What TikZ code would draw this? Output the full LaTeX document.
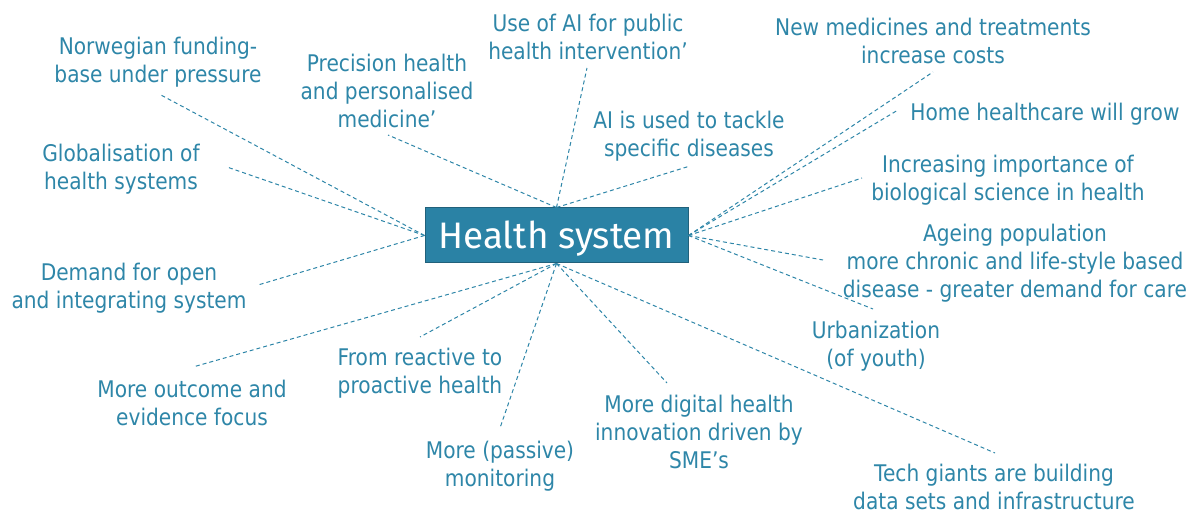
\documentclass[tikz,border=0pt]{standalone}
\usepackage{fontspec}
\setmainfont{DejaVu Sans}[FakeStretch=0.88]
\newfontfamily\titlefont{Fira Sans}
\definecolor{hsteal}{HTML}{2E86A8}
\definecolor{hsfill}{HTML}{2A82A5}
\definecolor{hsedge}{HTML}{21617B}

\begin{document}
\begin{tikzpicture}[x=1bp,y=-1bp,
every node/.style={align=center,text=hsteal,inner sep=0pt,font=\fontsize{23}{28}\selectfont},
link/.style={draw=hsteal,line width=1bp,dash pattern=on 4bp off 3bp},
hub/.style={rectangle,fill=hsfill,draw=hsedge,line width=1bp,minimum width=263bp,minimum height=55bp,
  text height=34bp,text depth=8bp,text=white,font=\titlefont\fontsize{37}{42}\selectfont}]

\useasboundingbox (0,0) rectangle (1199,513);

\node[hub] (hs) at (556.5,235.5) {Health system};

\node (norway) at (158,62) {Norwegian funding-\\base under pressure};
\node (globalisation) at (121,169) {Globalisation of\\health systems};
\node (demand) at (129,288) {Demand for open\\and integrating system};
\node (precision) at (387,91) {Precision health\\and personalised\\medicine’};
\node (aipublic) at (588,37) {Use of AI for public\\health intervention’};
\node (aitackle) at (689,136) {AI is used to tackle\\specific diseases};
\node (medicines) at (933,41) {New medicines and treatments\\increase costs};
\node (home) at (1045,114) {Home healthcare will grow};
\node (biology) at (1008,180) {Increasing importance of\\biological science in health};
\node (ageing) at (1015,263) {Ageing population\\more chronic and life-style based\\disease - greater demand for care};
\node (urban) at (876,346) {Urbanization\\(of youth)};
\node (techgiants) at (994,487) {Tech giants are building\\data sets and infrastructure};
\node (digital) at (699,432) {More digital health\\innovation driven by\\SME’s};
\node (monitoring) at (500,466) {More (passive)\\monitoring};
\node (reactive) at (420,373) {From reactive to\\proactive health};
\node (outcome) at (192,403) {More outcome and\\evidence focus};

% free ends of the dashed spokes
\coordinate (norway-tip) at (159,94);
\coordinate (globalisation-tip) at (227,167);
\coordinate (demand-tip) at (258,285);
\coordinate (precision-tip) at (388,135);
\coordinate (aipublic-tip) at (587,68);
\coordinate (aitackle-tip) at (690,166);
\coordinate (medicines-tip) at (933,72);
\coordinate (home-tip) at (898,110);
\coordinate (biology-tip) at (862,178);
\coordinate (ageing-tip) at (823,260);
\coordinate (urban-tip) at (873,309);
\coordinate (techgiants-tip) at (995,453);
\coordinate (digital-tip) at (667,383);
\coordinate (monitoring-tip) at (500,428);
\coordinate (reactive-tip) at (420,337);
\coordinate (outcome-tip) at (193,367);

\draw[link] (hs.west) -- (norway-tip);
\draw[link] (hs.west) -- (globalisation-tip);
\draw[link] (hs.west) -- (demand-tip);
\draw[link] (hs.north) -- (precision-tip);
\draw[link] (hs.north) -- (aipublic-tip);
\draw[link] (hs.north) -- (aitackle-tip);
\draw[link] (hs.east) -- (medicines-tip);
\draw[link] (hs.east) -- (home-tip);
\draw[link] (hs.east) -- (biology-tip);
\draw[link] (hs.east) -- (ageing-tip);
\draw[link] (hs.east) -- (urban-tip);
\draw[link] (hs.south) -- (techgiants-tip);
\draw[link] (hs.south) -- (digital-tip);
\draw[link] (hs.south) -- (monitoring-tip);
\draw[link] (hs.south) -- (reactive-tip);
\draw[link] (hs.south) -- (outcome-tip);

\end{tikzpicture}
\end{document}
